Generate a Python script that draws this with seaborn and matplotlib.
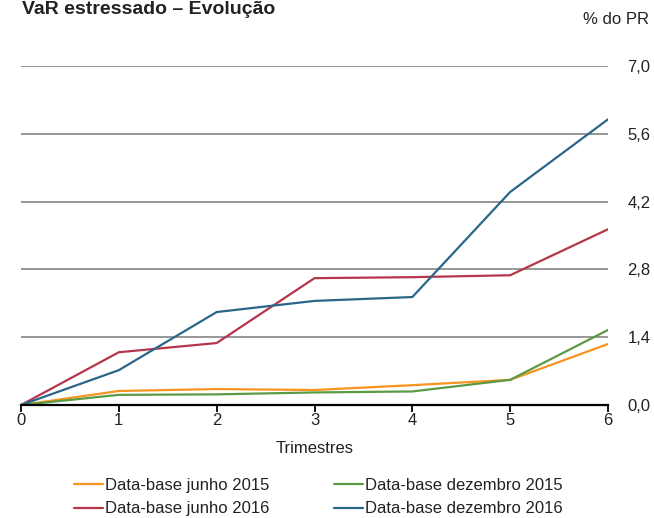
"""VaR estressado - evolucao por data-base"""

import pandas as pd
import seaborn as sns
import matplotlib

matplotlib.use("Agg")
import matplotlib.pyplot as plt

# data (% do PR)
trimestres = [0, 1, 2, 3, 4, 5, 6]
junho_2015 = [0.0, 0.29, 0.33, 0.31, 0.41, 0.52, 1.26]
dezembro_2015 = [0.0, 0.21, 0.22, 0.26, 0.28, 0.52, 1.55]
junho_2016 = [0.0, 1.09, 1.28, 2.62, 2.64, 2.68, 3.63]
dezembro_2016 = [0.0, 0.72, 1.92, 2.15, 2.23, 4.40, 5.90]

series = {
    "Data-base junho 2015": junho_2015,
    "Data-base dezembro 2015": dezembro_2015,
    "Data-base junho 2016": junho_2016,
    "Data-base dezembro 2016": dezembro_2016,
}
colors = {
    "Data-base junho 2015": "#f7941d",
    "Data-base dezembro 2015": "#5b9a45",
    "Data-base junho 2016": "#b5364b",
    "Data-base dezembro 2016": "#2a6689",
}
yticks = [0.0, 1.4, 2.8, 4.2, 5.6, 7.0]


def main():
    """Go Main Go"""
    sns.set_style("white")
    plt.rcParams["font.family"] = ["Liberation Sans", "DejaVu Sans"]
    txt = "#222222"
    fs = 12

    df = pd.DataFrame(
        [
            {"Trimestres": t, "valor": v, "serie": name}
            for name, vals in series.items()
            for t, v in zip(trimestres, vals)
        ]
    )

    fig = plt.figure(figsize=(6.54, 5.18), dpi=100)
    ax = fig.add_axes([0.0321, 0.2181, 0.8976, 0.6544])
    for y in yticks[1:]:
        ax.axhline(y, color="#8f8f8f", lw=1.3, zorder=0)
    sns.lineplot(
        data=df,
        x="Trimestres",
        y="valor",
        hue="serie",
        palette=colors,
        linewidth=1.6,
        legend=False,
        ax=ax,
    )
    ax.set_xlim(0, 6)
    ax.set_ylim(0, 7)
    for side in ["top", "left", "right"]:
        ax.spines[side].set_visible(False)
    ax.spines["bottom"].set_color("black")
    ax.spines["bottom"].set_linewidth(1.6)
    ax.spines["bottom"].set_zorder(5)

    ax.set_xticks(trimestres)
    ax.tick_params(
        axis="x", direction="out", length=5, width=1.3, color="black",
        labelsize=fs, labelcolor=txt, pad=1, bottom=True,
    )
    ax.yaxis.tick_right()
    ax.set_yticks(yticks)
    ax.set_yticklabels([f"{v:.1f}".replace(".", ",") for v in yticks])
    ax.tick_params(axis="y", length=0, labelsize=fs, labelcolor=txt, pad=14)
    ax.set_xlabel("Trimestres", fontsize=fs, color=txt, labelpad=9)
    ax.set_ylabel("")

    fig.text(649 / 654, 1 - 20 / 518, "% do PR", ha="right", va="center",
             fontsize=fs, color=txt)
    fig.text(22 / 654, 1 - 1 / 518, "VaR estressado – Evolução",
             ha="left", va="top", fontsize=14, fontweight="bold",
             color=txt)

    order = [
        "Data-base junho 2015",
        "Data-base junho 2016",
        "Data-base dezembro 2015",
        "Data-base dezembro 2016",
    ]
    handles = [plt.Line2D([], [], color=colors[k], lw=1.6) for k in order]
    fig.legend(
        handles, order, loc="upper left",
        bbox_to_anchor=(74 / 654, 1 - 478 / 518),
        ncol=2, frameon=False, fontsize=fs, handlelength=1.75,
        handletextpad=0.1, columnspacing=3.9, labelspacing=0.5,
        borderpad=0, borderaxespad=0, labelcolor=txt,
    )
    plt.savefig("out.png", dpi=100)


if __name__ == "__main__":
    main()
